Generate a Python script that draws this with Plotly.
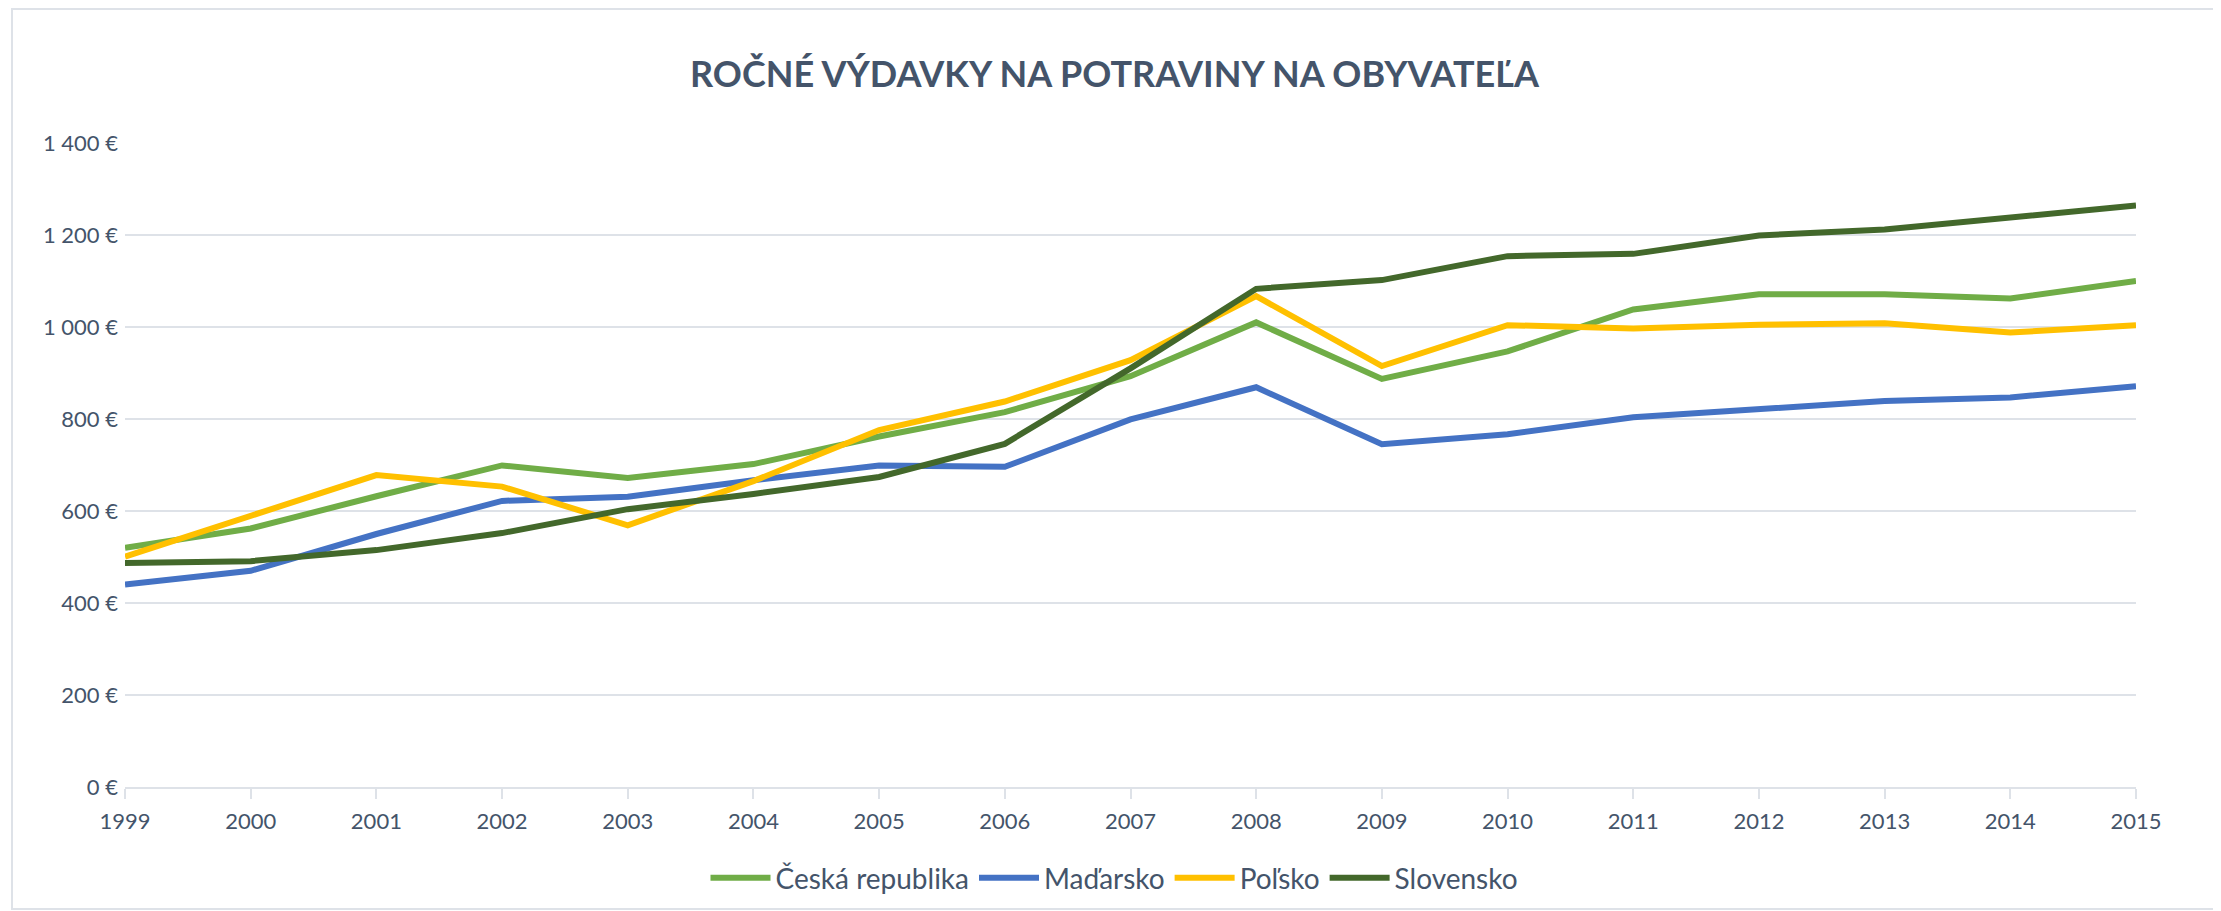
import plotly.graph_objects as go

# Ročné výdavky na potraviny na obyvateľa (EUR), 1999-2015
years = list(range(1999, 2016))

ceska_republika = [520, 562, 632, 699, 672, 702, 762, 815, 893, 1010, 887, 947, 1038, 1071, 1071, 1062, 1100]
madarsko = [440, 470, 550, 622, 631, 667, 699, 696, 799, 869, 745, 767, 804, 821, 839, 847, 871]
polsko = [501, 590, 678, 653, 569, 665, 776, 838, 928, 1067, 915, 1004, 997, 1005, 1008, 988, 1004]
slovensko = [487, 491, 515, 552, 604, 637, 674, 746, 910, 1083, 1102, 1154, 1159, 1199, 1212, 1237, 1264]

series_names = ["Česká republika", "Maďarsko", "Poľsko", "Slovensko"]
series_values = [ceska_republika, madarsko, polsko, slovensko]
series_colors = ["#70AD47", "#4472C4", "#FFC000", "#43682B"]

TEXT_COLOR = "#44546A"
GRID_COLOR = "#DEE2E8"
FONT = "Lato"

# the html page body has an 8px margin, so the figure is shifted by that
OFF = 8
W, H = 2221 - OFF, 911 - OFF
M_L, M_T = 125 - OFF, 143 - OFF
PLOT_W, PLOT_H = 2011, 644
M_R = W - M_L - PLOT_W
M_B = H - M_T - PLOT_H

fig = go.Figure()
for name, vals, color in zip(series_names, series_values, series_colors):
    fig.add_trace(
        go.Scatter(
            x=years,
            y=vals,
            name=name,
            mode="lines",
            line=dict(color=color, width=6),
        )
    )

# outer chart border (Excel-style chart area frame), screen px -> paper coords
def px_x(p):
    return (p - OFF - M_L) / PLOT_W
def px_y(p):
    return (M_T + PLOT_H - (p - OFF)) / PLOT_H

fig.add_shape(
    type="rect", xref="paper", yref="paper",
    x0=px_x(12), x1=px_x(2217), y0=px_y(909), y1=px_y(OFF + 1),
    line=dict(color=GRID_COLOR, width=2), layer="below",
)

fig.update_layout(
    width=W,
    height=H,
    margin=dict(l=M_L, r=M_R, t=M_T, b=M_B),
    paper_bgcolor="white",
    plot_bgcolor="white",
    separators=", ",
    font=dict(family=FONT, color=TEXT_COLOR, size=22),
    title=dict(
        text="<b>ROČNÉ VÝDAVKY NA POTRAVINY NA OBYVATEĽA</b>",
        x=0.5, xref="container", xanchor="center",
        y=1 - (74 - OFF) / H, yref="container", yanchor="middle",
        font=dict(family=FONT, size=36, color=TEXT_COLOR),
    ),
    xaxis=dict(
        range=[1999, 2015],
        tickmode="array",
        tickvals=years,
        ticktext=[str(y) for y in years],
        showgrid=False,
        showline=True,
        linecolor=GRID_COLOR,
        linewidth=2,
        ticks="outside",
        ticklen=10,
        tickwidth=1.5,
        tickcolor=GRID_COLOR,
        ticklabelstandoff=4,
        tickfont=dict(size=22),
        zeroline=False,
    ),
    yaxis=dict(
        range=[0, 1400],
        dtick=200,
        tickformat=",d",
        ticksuffix=" €",
        showgrid=True,
        gridcolor=GRID_COLOR,
        gridwidth=2,
        zeroline=False,
        showline=False,
        ticks="",
        ticklabelstandoff=6,
        tickfont=dict(size=22),
    ),
    legend=dict(
        orientation="h",
        x=0.5, xref="container", xanchor="center",
        y=1 - (878 - OFF) / H, yref="container", yanchor="middle",
        font=dict(size=28),
        itemwidth=60,
    ),
)

fig.write_html("out.html")
